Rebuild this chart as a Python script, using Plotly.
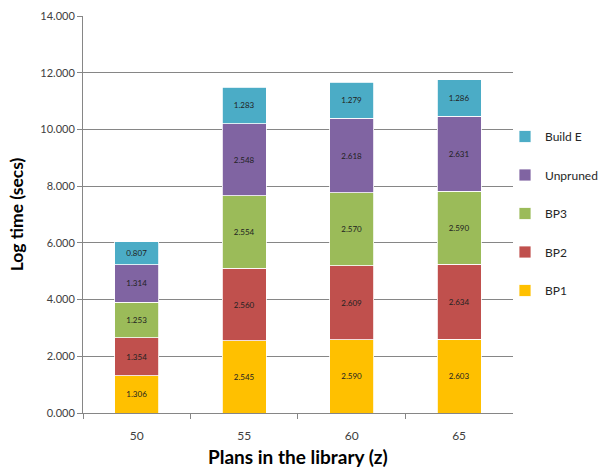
import plotly.graph_objects as go

categories = ["50", "55", "60", "65"]
bp1 = [1.306, 2.545, 2.590, 2.603]
bp2 = [1.354, 2.560, 2.609, 2.634]
bp3 = [1.253, 2.554, 2.570, 2.590]
unpruned = [1.314, 2.548, 2.618, 2.631]
build_e = [0.807, 1.283, 1.279, 1.286]

series = [
    ("BP1", bp1, "#FFC000"),
    ("BP2", bp2, "#C0504D"),
    ("BP3", bp3, "#9BBB59"),
    ("Unpruned", unpruned, "#8064A2"),
    ("Build E", build_e, "#4BACC6"),
]

FONT = "Lato, 'Open Sans', sans-serif"

fig = go.Figure()
n = len(series)
for i, (name, vals, color) in enumerate(series):
    fig.add_trace(go.Bar(
        x=categories, y=vals, name=name, legendgroup=name, legendrank=n - i,
        marker=dict(color=color, line=dict(color="white", width=0.8)),
        text=[f"{v:.3f}" for v in vals], textposition="inside",
        insidetextanchor="middle", textangle=0,
        textfont=dict(size=8, color="#222222", family=FONT),
        constraintext="none", hoverinfo="skip",
    ))

fig.update_layout(
    width=603, height=470, barmode="stack", bargap=0.59,
    plot_bgcolor="white", paper_bgcolor="white",
    margin=dict(l=83, r=0, t=16, b=57),
    font=dict(family=FONT, size=11, color="#404040"),
    uniformtext=dict(minsize=8, mode="show"),
    legend=dict(
        x=0.82, xanchor="left", y=0.733, yanchor="top",
        traceorder="grouped", tracegroupgap=19.5,
        font=dict(size=12, color="#262626", family=FONT),
        itemwidth=30, bgcolor="rgba(0,0,0,0)",
    ),
)
fig.update_xaxes(
    domain=[0, 0.8346], automargin=False,
    showline=True, linecolor="#868686", linewidth=1,
    ticks="outside", tickson="boundaries", ticklen=5, tickcolor="#868686",
    ticklabelstandoff=12,
    tickfont=dict(size=12, color="#404040"),
    title=dict(text="<b>Plans in the library (z)</b>", font=dict(size=19, color="black"), standoff=8),
)
fig.update_yaxes(
    range=[0, 14], dtick=2, tickformat=",.3f", automargin=False,
    showline=True, linecolor="#868686", linewidth=1,
    ticks="outside", ticklen=5, tickcolor="#868686",
    showgrid=True, gridcolor="#868686", gridwidth=1,
    tickfont=dict(size=11, color="#404040"),
    title=dict(text="<b>Log time (secs)</b>", font=dict(size=17.5, color="black"), standoff=12),
    zeroline=False,
)

fig.write_html("out.html")
